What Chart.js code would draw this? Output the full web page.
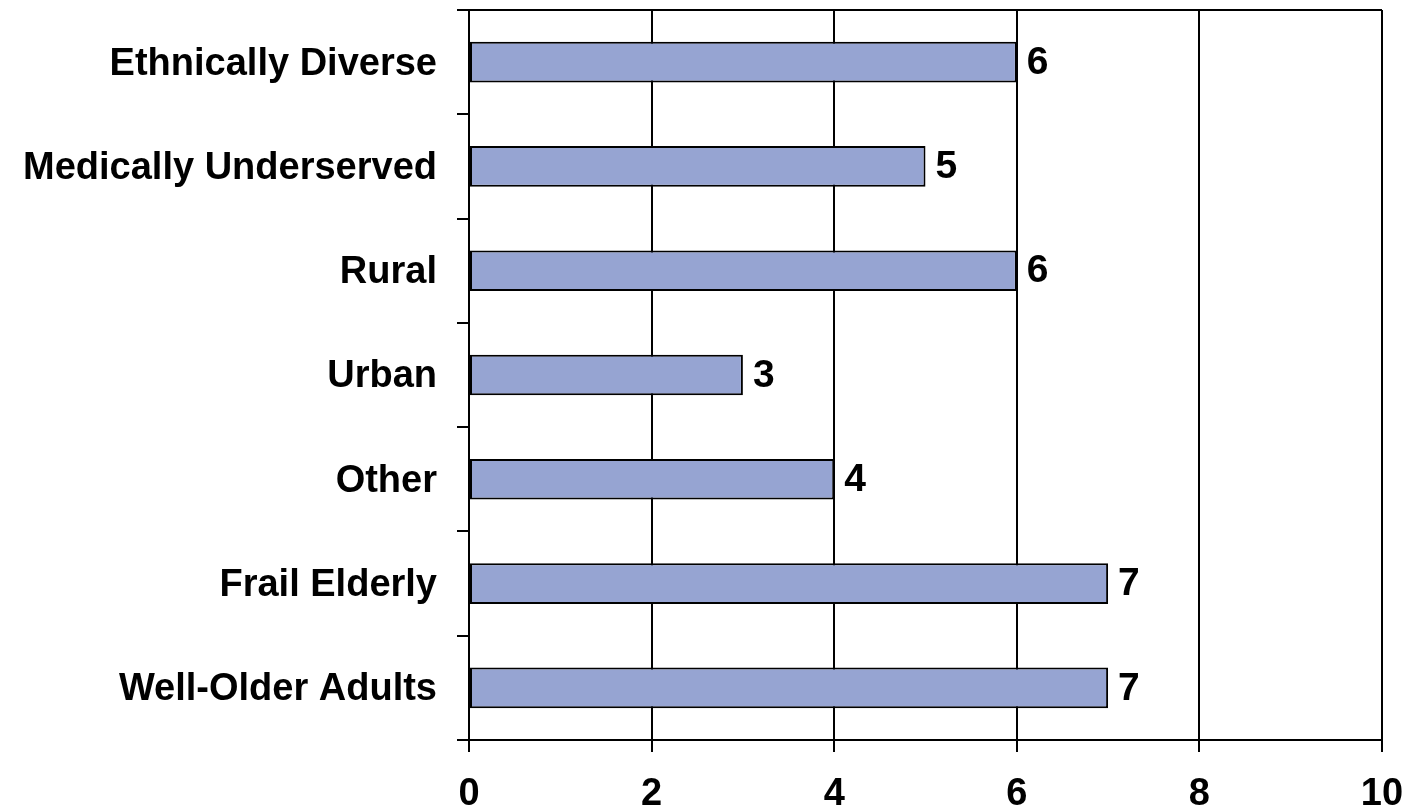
<!DOCTYPE html>
<html>
<head>
<meta charset="utf-8">
<script src="https://cdn.jsdelivr.net/npm/chart.js@4/dist/chart.umd.min.js"></script>
<style>
  html, body { margin: 0; padding: 0; background: #fff; overflow: hidden; }
  #chart { display: block; }
</style>
</head>
<body>
<canvas id="chart" width="1412" height="812"></canvas>
<script>
'use strict';

const CATEGORIES = ['Ethnically Diverse', 'Medically Underserved', 'Rural', 'Urban', 'Other', 'Frail Elderly', 'Well-Older Adults'];
const VALUES = [6, 5, 6, 3, 4, 7, 7];
const X_TICKS = [0, 2, 4, 6, 8, 10];

const FONT = "'Liberation Sans', Arial, sans-serif";
const BAR_FILL = '#96A4D2';

// value labels at the end of each bar
const valueLabels = {
  id: 'valueLabels',
  afterDatasetsDraw(chart) {
    const ctx = chart.ctx;
    const meta = chart.getDatasetMeta(0);
    ctx.save();
    ctx.font = `bold 39px ${FONT}`;
    ctx.fillStyle = '#000';
    ctx.textAlign = 'left';
    ctx.textBaseline = 'middle';
    meta.data.forEach((bar, i) => {
      ctx.fillText(String(VALUES[i]), bar.x + 10, bar.y + 1);
    });
    ctx.restore();
  }
};

// top edge of the plot box
const topBorder = {
  id: 'topBorder',
  afterDraw(chart) {
    const { ctx, chartArea } = chart;
    ctx.save();
    ctx.strokeStyle = '#000';
    ctx.lineWidth = 2;
    ctx.beginPath();
    ctx.moveTo(chartArea.left, chartArea.top);
    ctx.lineTo(chartArea.right, chartArea.top);
    ctx.stroke();
    ctx.restore();
  }
};

new Chart(document.getElementById('chart'), {
  type: 'bar',
  data: {
    labels: CATEGORIES,
    datasets: [{
      data: VALUES,
      backgroundColor: BAR_FILL,
      borderColor: '#000',
      borderWidth: 2,
      borderSkipped: false,
      barPercentage: 0.39,
      categoryPercentage: 1
    }]
  },
  options: {
    indexAxis: 'y',
    responsive: false,
    devicePixelRatio: 1,
    animation: false,
    layout: { padding: { top: 10, right: 30, bottom: 0, left: 0 } },
    plugins: {
      legend: { display: false },
      tooltip: { enabled: false }
    },
    scales: {
      x: {
        min: 0,
        max: 10,
        afterBuildTicks: scale => { scale.ticks = X_TICKS.map(v => ({ value: v })); },
        afterFit: scale => {
          scale.height = 72;
          scale.paddingLeft = 0;
          scale.paddingRight = 0;
        },
        grid: { color: '#000', lineWidth: 2, tickLength: 12 },
        border: { color: '#000', width: 2 },
        ticks: {
          color: '#000',
          padding: 20,
          maxRotation: 0,
          font: { family: FONT, size: 38, weight: 'bold' }
        }
      },
      y: {
        afterFit: scale => {
          scale.width = 469;
          scale.paddingTop = 0;
          scale.paddingBottom = 0;
        },
        grid: { offset: true, drawOnChartArea: false, color: '#000', lineWidth: 2, tickLength: 12 },
        border: { color: '#000', width: 2 },
        ticks: {
          color: '#000',
          padding: 20,
          labelOffset: 2,
          font: { family: FONT, size: 38, weight: 'bold' }
        }
      }
    }
  },
  plugins: [valueLabels, topBorder]
});
</script>
</body>
</html>
